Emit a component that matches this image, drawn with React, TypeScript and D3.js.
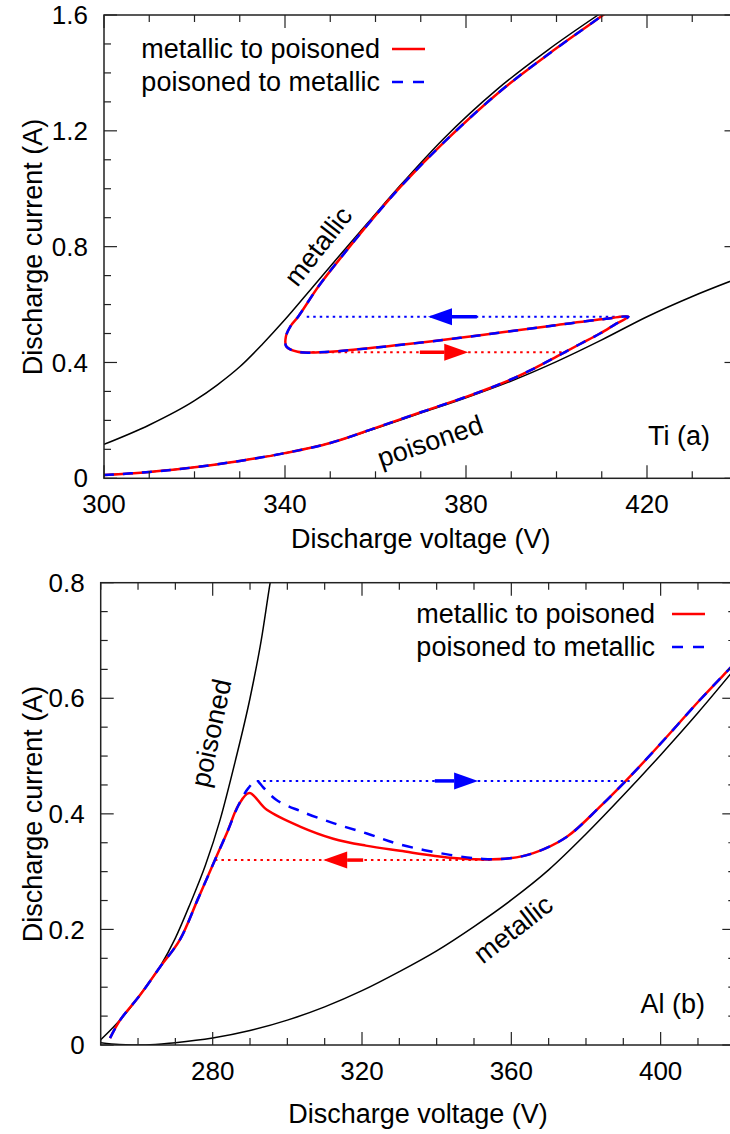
import React from "react";
import * as d3 from "d3";

const W = 730;
const H = 1134;
const FONT = "'Liberation Sans', Arial, Helvetica, sans-serif";

// ---------- panel (a): Ti ----------
const tiVolt = [300, 440];
const tiCurr = [0, 1.6];
const tiXTicks = [300, 340, 380, 420];
const tiYTicks = [0, 0.4, 0.8, 1.2, 1.6];

// black reference curves [V, I]
const tiMetallic: [number, number][] = [
  [300, 0.117], [310, 0.184], [320, 0.268], [325, 0.322], [330, 0.385],
  [335, 0.463], [340, 0.548], [346, 0.658], [352.2, 0.772], [359, 0.895],
  [365.4, 1.01], [375, 1.172], [387, 1.345], [398, 1.478], [409.2, 1.6],
  [414, 1.65],
];
const tiPoisoned: [number, number][] = [
  [300, 0.011], [310, 0.022], [320, 0.038], [330, 0.06], [340, 0.087],
  [350, 0.122], [360, 0.172], [370, 0.225], [380, 0.278], [390, 0.336],
  [400, 0.403], [410, 0.478], [420, 0.558], [430, 0.628], [440, 0.69],
];
// simulated loop (same path both directions)
const tiLoop: [number, number][] = [
  [300, 0.011], [310, 0.022], [320, 0.038], [330, 0.06], [340, 0.087],
  [350, 0.122], [360, 0.174], [370, 0.228], [380, 0.281], [385, 0.31],
  [390, 0.342], [395, 0.379], [400, 0.42], [405, 0.462], [409.6, 0.5],
  [413.3, 0.535], [415.9, 0.558], [410, 0.549], [398.6, 0.526], [388, 0.504],
  [378.7, 0.485], [366.2, 0.462], [355.1, 0.444], [347.7, 0.435], [342.8, 0.437],
  [340.3, 0.455], [340.2, 0.49], [341.2, 0.525], [342.9, 0.558], [347.5, 0.665],
  [353, 0.775], [359.3, 0.895], [365.6, 1.008], [375.5, 1.166], [387.5, 1.336],
  [398.5, 1.468], [410.3, 1.6], [415, 1.655],
];
const tiJumps = [
  { color: "#0000ff", I: 0.558, from: 344.8, to: 416, tail: 382.4, tip: 371.6 },
  { color: "#ff0000", I: 0.435, from: 346, to: 402.2, tail: 369.8, tip: 380.5 },
];

// ---------- panel (b): Al ----------
const alVolt = [250, 420];
const alCurr = [0, 0.8];
const alXTicks = [280, 320, 360, 400];
const alYTicks = [0, 0.2, 0.4, 0.6, 0.8];

const alPoisoned: [number, number][] = [
  [250, 0.009], [254, 0.035], [258, 0.065], [262, 0.1], [266, 0.137],
  [270, 0.185], [274, 0.245], [278, 0.31], [282, 0.39], [286, 0.49],
  [290, 0.6], [293, 0.7], [295.4, 0.8], [297, 0.86],
];
const alMetallic: [number, number][] = [
  [250, 0.004], [255, 0.001], [262, 0.0], [270, 0.004], [280, 0.012],
  [290, 0.025], [300, 0.043], [310, 0.066], [320, 0.094], [330, 0.127],
  [340, 0.163], [350, 0.205], [360, 0.251], [370, 0.303], [380, 0.365],
  [390, 0.432], [400, 0.502], [410, 0.575], [420, 0.652],
];
const alUp: [number, number][] = [
  [252.5, 0.012], [255.2, 0.043], [260.5, 0.086], [265.9, 0.135], [271.2, 0.182],
  [276, 0.252], [280.6, 0.32], [284, 0.37], [286.9, 0.415], [289.8, 0.436],
  [294.5, 0.407], [303.4, 0.378], [312.3, 0.357], [321, 0.345], [330.2, 0.336],
  [343.6, 0.324], [352.5, 0.321], [359.6, 0.323], [365.9, 0.332], [374.8, 0.36],
  [383.7, 0.412], [392.6, 0.47], [401.6, 0.533], [410.5, 0.597], [418.6, 0.652],
  [422, 0.675],
];
const alDown: [number, number][] = [
  [252.5, 0.012], [255.2, 0.043], [260.5, 0.086], [265.9, 0.135], [271.2, 0.182],
  [276, 0.252], [280.6, 0.32], [284, 0.37], [286.9, 0.415], [289.6, 0.445],
  [291.8, 0.457], [293.5, 0.446], [297.1, 0.424], [303.4, 0.405], [312.3, 0.384],
  [321.3, 0.366], [330.2, 0.347], [343.6, 0.329], [352.5, 0.322], [359.6, 0.323],
  [365.9, 0.332], [374.8, 0.36], [383.7, 0.412], [392.6, 0.47], [401.6, 0.533],
  [410.5, 0.597], [418.6, 0.652], [422, 0.675],
];
const alJumps = [
  { color: "#0000ff", I: 0.457, from: 291.8, to: 391.7, tail: 339.5, tip: 351.1 },
  { color: "#ff0000", I: 0.32, from: 280.6, to: 355, tail: 320.3, tip: 309.6 },
];

const legendLabels = ["metallic to poisoned", "poisoned to metallic"];

type Pt = [number, number];

function Panel({ id, x, y, xMajor, xMinorStep, yMajor, yMinorStep, xTitleY, yTitleY, children }) {
  const [x0, x1] = x.range();
  const [y0, y1] = y.range();
  const xMinor = d3.range(x.domain()[0], x.domain()[1] + 0.001, xMinorStep);
  const yMinor = d3.range(y.domain()[0], y.domain()[1] + 0.0001, yMinorStep);
  const axisColor = "#222";
  return (
    <g>
      <defs>
        <clipPath id={id}>
          <rect x={x0} y={y1} width={x1 - x0} height={y0 - y1} />
        </clipPath>
      </defs>
      <g clipPath={`url(#${id})`}>{children}</g>
      <rect x={x0} y={y1} width={x1 - x0} height={y0 - y1} fill="none" stroke={axisColor} strokeWidth={1.5} />
      {xMinor.map((t, i) => {
        const major = xMajor.some((m) => Math.abs(m - t) < 1e-6);
        const len = major ? 13 : 7;
        return (
          <g key={`xt${i}`} stroke={axisColor} strokeWidth={1.2}>
            <line x1={x(t)} x2={x(t)} y1={y0} y2={y0 - len} />
            <line x1={x(t)} x2={x(t)} y1={y1} y2={y1 + len} />
          </g>
        );
      })}
      {yMinor.map((t, i) => {
        const major = yMajor.some((m) => Math.abs(m - t) < 1e-6);
        const len = major ? 13 : 7;
        return (
          <g key={`yt${i}`} stroke={axisColor} strokeWidth={1.2}>
            <line x1={x0} x2={x0 + len} y1={y(t)} y2={y(t)} />
            <line x1={x1} x2={x1 - len} y1={y(t)} y2={y(t)} />
          </g>
        );
      })}
      {xMajor.map((t) => (
        <text key={`xl${t}`} x={x(t)} y={y0 + 35} textAnchor="middle" fontSize={26}>
          {t}
        </text>
      ))}
      {yMajor.map((t) => (
        <text key={`yl${t}`} x={x0 - 16} y={y(t)} dy="0.35em" textAnchor="end" fontSize={26}>
          {String(t)}
        </text>
      ))}
      <text x={(x0 + x1) / 2} y={xTitleY} textAnchor="middle" fontSize={27}>
        Discharge voltage (V)
      </text>
      <text transform={`translate(42,${yTitleY}) rotate(-90)`} textAnchor="middle" fontSize={27}>
        Discharge current (A)
      </text>
    </g>
  );
}

function Jump({ x, y, j }) {
  const dir = j.tip > j.tail ? 1 : -1;
  const tipX = x(j.tip);
  const baseX = tipX - dir * 24;
  const yy = y(j.I);
  return (
    <g>
      <line x1={x(j.from)} x2={x(j.to)} y1={yy} y2={yy} stroke={j.color} strokeWidth={2} strokeDasharray="2.5,4" />
      <line x1={x(j.tail)} x2={baseX} y1={yy} y2={yy} stroke={j.color} strokeWidth={3.5} />
      <polygon points={`${tipX},${yy} ${baseX},${yy - 8.5} ${baseX},${yy + 8.5}`} fill={j.color} />
    </g>
  );
}

function Legend({ right, top, sampleX }) {
  return (
    <g>
      {legendLabels.map((lab, i) => {
        const by = top + i * 33;
        return (
          <g key={lab}>
            <text x={right} y={by} textAnchor="end" fontSize={27}>
              {lab}
            </text>
            <line
              x1={sampleX}
              x2={sampleX + 33}
              y1={by - 9}
              y2={by - 9}
              stroke={i === 0 ? "#ff0000" : "#0000ff"}
              strokeWidth={2.5}
              strokeDasharray={i === 0 ? null : "11,10"}
            />
          </g>
        );
      })}
    </g>
  );
}

export default function App() {
  const xa = d3.scaleLinear().domain(tiVolt).range([104, 737.5]);
  const ya = d3.scaleLinear().domain(tiCurr).range([478.3, 15]);
  const xb = d3.scaleLinear().domain(alVolt).range([100.7, 735.3]);
  const yb = d3.scaleLinear().domain(alCurr).range([1045, 582.7]);

  // black curves are functions of V, the loops are not
  const refA = d3.line<Pt>().x((d) => xa(d[0])).y((d) => ya(d[1])).curve(d3.curveMonotoneX);
  const refB = d3.line<Pt>().x((d) => xb(d[0])).y((d) => yb(d[1])).curve(d3.curveMonotoneX);
  const lineA = d3.line<Pt>().x((d) => xa(d[0])).y((d) => ya(d[1])).curve(d3.curveCatmullRom.alpha(0.5));
  const lineB = d3.line<Pt>().x((d) => xb(d[0])).y((d) => yb(d[1])).curve(d3.curveCatmullRom.alpha(0.5));

  return (
    <div style={{ position: "absolute", left: 0, top: 0 }}>
      <svg width={W} height={H} viewBox={`0 0 ${W} ${H}`} fontFamily={FONT} style={{ display: "block", background: "#fff" }}>
        <Panel id="clipA" x={xa} y={ya} xMajor={tiXTicks} xMinorStep={10} yMajor={tiYTicks} yMinorStep={0.1} xTitleY={548} yTitleY={247}>
          <path d={refA(tiMetallic)} fill="none" stroke="#000" strokeWidth={1.5} />
          <path d={refA(tiPoisoned)} fill="none" stroke="#000" strokeWidth={1.5} />
          {tiJumps.map((j, i) => (
            <Jump key={i} x={xa} y={ya} j={j} />
          ))}
          <path d={lineA(tiLoop)} fill="none" stroke="#ff0000" strokeWidth={2.5} />
          <path d={lineA(tiLoop)} fill="none" stroke="#0000ff" strokeWidth={2.5} strokeDasharray="10,9" />
        </Panel>
        <text transform={`translate(318,246) rotate(-52)`} textAnchor="middle" dy="0.35em" fontSize={27}>
          metallic
        </text>
        <text transform={`translate(430,441) rotate(-19)`} textAnchor="middle" dy="0.35em" fontSize={27}>
          poisoned
        </text>
        <text x={710} y={445} textAnchor="end" fontSize={27}>
          Ti (a)
        </text>
        <Legend right={380} top={58} sampleX={392} />

        <Panel id="clipB" x={xb} y={yb} xMajor={alXTicks} xMinorStep={10} yMajor={alYTicks} yMinorStep={0.05} xTitleY={1123} yTitleY={814}>
          <path d={refB(alPoisoned)} fill="none" stroke="#000" strokeWidth={1.5} />
          <path d={refB(alMetallic)} fill="none" stroke="#000" strokeWidth={1.5} />
          {alJumps.map((j, i) => (
            <Jump key={i} x={xb} y={yb} j={j} />
          ))}
          <path d={lineB(alUp)} fill="none" stroke="#ff0000" strokeWidth={2.5} />
          <path d={lineB(alDown)} fill="none" stroke="#0000ff" strokeWidth={2.5} strokeDasharray="11,9" />
        </Panel>
        <text transform={`translate(211,733) rotate(-78)`} textAnchor="middle" dy="0.35em" fontSize={27}>
          poisoned
        </text>
        <text transform={`translate(513,929) rotate(-38)`} textAnchor="middle" dy="0.35em" fontSize={27}>
          metallic
        </text>
        <text x={705} y={1013} textAnchor="end" fontSize={27}>
          Al (b)
        </text>
        <Legend right={655} top={623} sampleX={672} />
      </svg>
    </div>
  );
}
